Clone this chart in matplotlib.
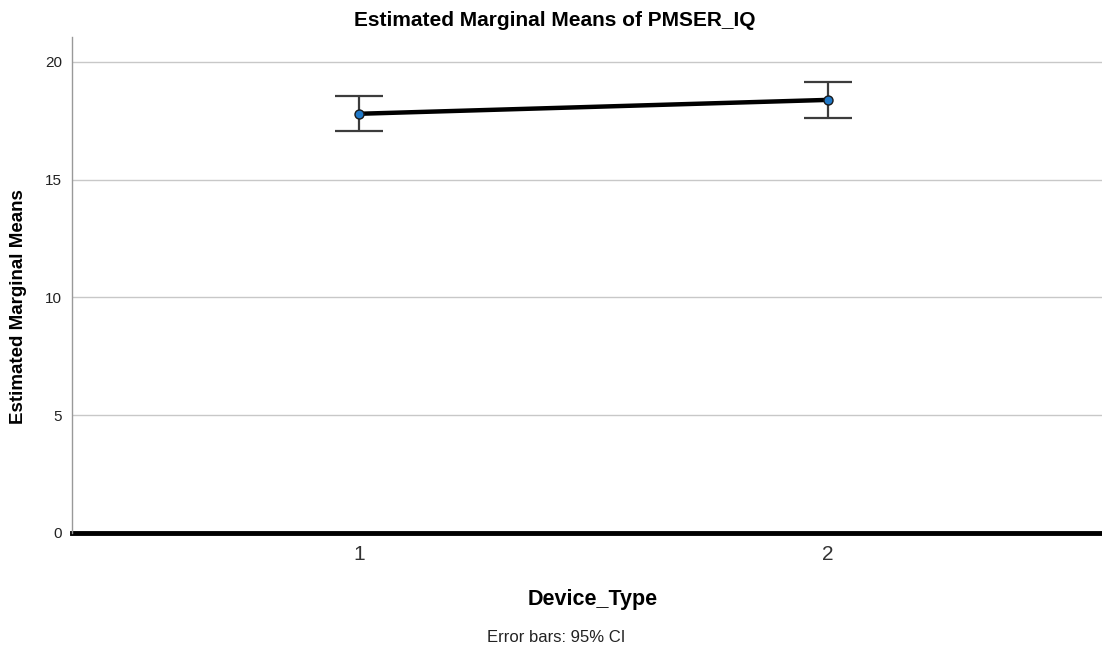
import matplotlib
matplotlib.use("Agg")
import matplotlib.pyplot as plt

categories = ["1", "2"]
means = [17.80, 18.39]
ci_low = [17.06, 17.63]
ci_high = [18.57, 19.14]
yticks = [0, 5, 10, 15, 20]

plt.rcParams['font.family'] = ['Liberation Sans', 'DejaVu Sans']

W, H = 1102, 647
fig = plt.figure(figsize=(W / 100, H / 100), dpi=100)
ax = fig.add_axes([72 / W, (H - 533) / H, 1 - 72 / W, (533 - 37) / H])

x = [1, 2]
yerr = [[m - l for m, l in zip(means, ci_low)], [h - m for m, h in zip(means, ci_high)]]
ax.errorbar(x, means, yerr=yerr, fmt='none', ecolor='#3c3c3c', elinewidth=1.6,
            capsize=17.5, capthick=1.6, zorder=3)
ax.plot(x, means, color='black', linewidth=3.2, zorder=4)
ax.plot(x, means, linestyle='none', marker='o', markersize=6.5, markerfacecolor='#1f78c8',
        markeredgecolor='#1a1a1a', markeredgewidth=1.0, zorder=5)

ax.set_xlim(0.388, 2.584)
ax.set_ylim(0, 21.06)
ax.set_yticks(yticks)
ax.set_yticklabels([str(t) for t in yticks], fontsize=11, color='#222222')
ax.set_xticks(x)
ax.set_xticklabels(categories, fontsize=15, color='#333333')
ax.tick_params(axis='both', length=0)
ax.tick_params(axis='y', pad=7)
ax.tick_params(axis='x', pad=9)
ax.yaxis.grid(True, color='#c8c8c8', linewidth=1.0)
ax.set_axisbelow(True)
for s in ['top', 'right', 'bottom']:
    ax.spines[s].set_visible(False)
ax.spines['left'].set_color('#999999')
ax.spines['left'].set_linewidth(1.0)
ax.axhline(0, color='black', linewidth=3.5, zorder=2, clip_on=False)

fig.text(555 / W, 1 - 20 / H, "Estimated Marginal Means of PMSER_IQ", fontsize=15,
         fontweight='bold', ha='center', va='center')
fig.text(19 / W, 1 - 307 / H, "Estimated Marginal Means", fontsize=13.5, fontweight='bold',
         rotation=90, ha='center', va='center')
fig.text(593 / W, 1 - 599 / H, "Device_Type", fontsize=15.5, fontweight='bold',
         ha='center', va='center')
fig.text(556 / W, 1 - 638 / H, "Error bars: 95% CI", fontsize=12, ha='center', va='center',
         color='#222222')

fig.savefig("out.png", dpi=100)
